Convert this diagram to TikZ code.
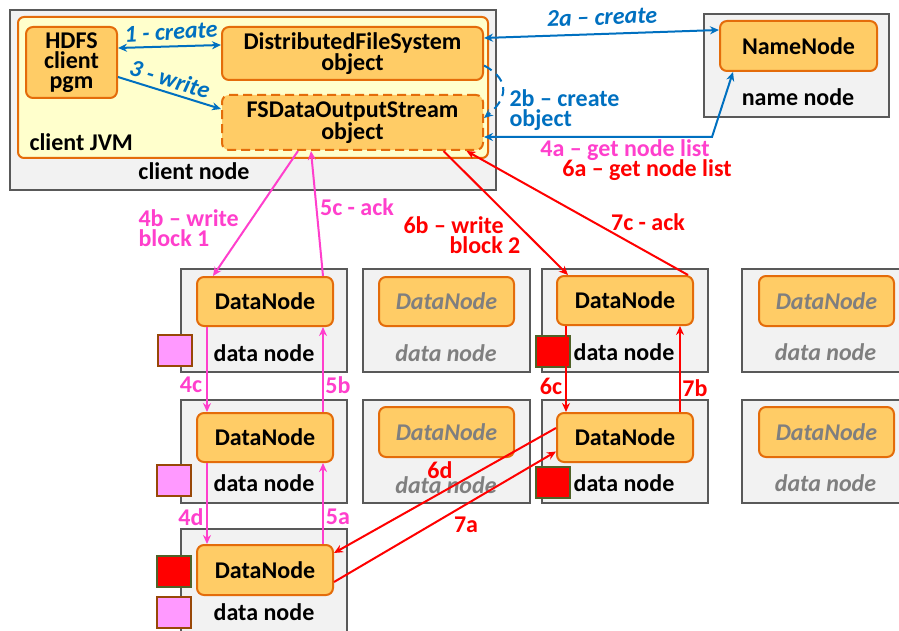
\documentclass[tikz,border=0pt]{standalone}
\usepackage{fontspec}
\setmainfont{Carlito}
\usepackage{tikz}
\usetikzlibrary{arrows.meta}

\definecolor{hostgray}{HTML}{F2F2F2}
\definecolor{hostline}{HTML}{595959}
\definecolor{jvmfill}{HTML}{FFFFCC}
\definecolor{objfill}{HTML}{FFCC66}
\definecolor{objline}{HTML}{E46C0A}
\definecolor{sparegray}{HTML}{7F7F7F}
\definecolor{hdfsblue}{HTML}{0070C0}
\definecolor{flowpink}{HTML}{FF3FCC}
\definecolor{blockpink}{HTML}{FF99FF}
\definecolor{pinkline}{HTML}{984807}
\definecolor{redline}{HTML}{4F6228}

\begin{document}
\begin{tikzpicture}[x=1pt,y=-1pt,
  every node/.style={font=\bfseries\fontsize{24}{20}\selectfont},
  >={Stealth[length=9pt,width=8pt]},
  host/.style={fill=hostgray,draw=hostline,line width=2.2pt},
  daemon/.style={draw=objline,fill=objfill,line width=2pt,rounded corners=7pt,
    align=center,inner sep=0pt},
  spare/.style={daemon,text=sparegray,font=\bfseries\itshape\fontsize{24}{20}\selectfont},
  spareinfo/.style={text=sparegray,font=\bfseries\itshape\fontsize{24}{20}\selectfont},
  call/.style={draw=hdfsblue,line width=2pt,->},
  pinkflow/.style={draw=flowpink,line width=2pt,->},
  redflow/.style={draw=red,line width=2pt,->},
  pinkblk/.style={fill=blockpink,draw=pinkline,line width=2pt,
    minimum width=34pt,minimum height=31pt,inner sep=0pt},
  redblk/.style={pinkblk,fill=red,draw=redline}]

  \useasboundingbox (0,0) rectangle (899,631);
  \clip (0,0) rectangle (899,631);

  % client node
  \draw[host] (10,10) rectangle (496,190);
  \draw[draw=objline,fill=jvmfill,line width=2pt,rounded corners=6pt] (18,17) rectangle (488,158);
  \node[daemon,minimum width=91pt,minimum height=71pt] (pgm) at (71.5,62.5) {HDFS\\client\\pgm};
  \node[daemon,minimum width=261pt,minimum height=53pt] (dfs) at (352.5,53.5) {DistributedFileSystem\\object};
  \node[daemon,dashed,dash pattern=on 9pt off 5pt,minimum width=261pt,minimum height=55pt] (fsdos) at (352.5,122.5) {FSDataOutputStream\\object};
  \node[anchor=west] (jvmlbl) at (26,142) {client JVM};
  \node (clientlbl) at (194,171) {client node};

  % name node
  \draw[host] (704,14) rectangle (889,117);
  \node[daemon,minimum width=157pt,minimum height=50pt] (namenode) at (798.5,46) {NameNode};
  \node (namelbl) at (798,97) {name node};

  % data nodes
  \draw[host] (181,269) rectangle (347,372);
  \draw[host] (363,269) rectangle (530,372);
  \draw[host] (542,269) rectangle (708,372);
  \draw[host] (742,269) rectangle (905,372);
  \draw[host] (181,400) rectangle (347,503);
  \draw[host] (363,400) rectangle (530,503);
  \draw[host] (542,400) rectangle (708,503);
  \draw[host] (742,400) rectangle (905,503);
  \draw[host] (181,529) rectangle (347,640);

  \node[daemon,minimum width=136pt,minimum height=49pt] (dn11) at (265,301.5) {DataNode};
  \node[daemon,minimum width=136pt,minimum height=49pt] (dn21) at (265,437.5) {DataNode};
  \node[daemon,minimum width=136pt,minimum height=50pt] (dn31) at (265,570) {DataNode};
  \node[daemon,minimum width=136pt,minimum height=49pt] (dn13) at (625,300.5) {DataNode};
  \node[daemon,minimum width=136pt,minimum height=49pt] (dn23) at (625,437.5) {DataNode};
  \node[spare,minimum width=135pt,minimum height=49pt] (dn12) at (446.5,301.5) {DataNode};
  \node[spare,minimum width=135pt,minimum height=50pt] (dn22) at (446.5,432) {DataNode};
  \node[spare,minimum width=135pt,minimum height=50pt] (dn14) at (826.5,301) {DataNode};
  \node[spare,minimum width=135pt,minimum height=50pt] (dn24) at (826.5,432) {DataNode};

  \node (dl11) at (264,353) {data node};
  \node (dl21) at (264,483) {data node};
  \node (dl31) at (264,612) {data node};
  \node (dl13) at (624,352) {data node};
  \node (dl23) at (624,483) {data node};
  \node[spareinfo] (dl12) at (446,353) {data node};
  \node[spareinfo] (dl22) at (446,485) {data node};
  \node[spareinfo] (dl14) at (825.5,352) {data node};
  \node[spareinfo] (dl24) at (825.5,483) {data node};

  % blocks
  \node[pinkblk] (blk11) at (175,350.5) {};
  \node[pinkblk] (blk21) at (174,480) {};
  \node[redblk] (blk31r) at (174,571) {};
  \node[pinkblk] (blk31p) at (174,612.5) {};
  \node[redblk] (blk13) at (553,351) {};
  \node[redblk] (blk23) at (553,482.5) {};

  % create
  \draw[call,<->] ([yshift=14.5pt]pgm.east) -- ([yshift=8.5pt]dfs.west);
  \node[text=hdfsblue,font=\bfseries\itshape\fontsize{24}{20}\selectfont,rotate=3] (l1) at (171,32) {1 - create};
  \draw[call,<->] ([yshift=15.5pt]dfs.east) -- ([yshift=16pt]namenode.west);
  \node[text=hdfsblue,font=\bfseries\itshape\fontsize{24}{20}\selectfont,rotate=2] (l2a) at (602,17) {2a – create};
  \draw[call,dashed,dash pattern=on 9pt off 6pt] ([yshift=-12pt]dfs.east) .. controls +(28,15) and +(22,-18) .. ([yshift=4.5pt]fsdos.east);
  \node[text=hdfsblue,anchor=west,align=left] (l2b) at (506,110) {2b – create\\object};

  % write
  \draw[call] ([yshift=-14.5pt]pgm.east) -- ([yshift=13.5pt]fsdos.west);
  \node[text=hdfsblue,font=\bfseries\itshape\fontsize{24}{20}\selectfont,rotate=-17] (l3) at (170,79) {3 - write};

  % get node list
  \coordinate (bend) at (712,137);
  \draw[call,<->] ([yshift=-14.5pt]fsdos.east) -- (bend) -- ([xshift=-65.5pt]namenode.south);
  \node[text=flowpink] (l4a) at (625,150) {4a – get node list};
  \node[text=red] (l6a) at (647,170) {6a – get node list};

  % block 1 pipeline
  \draw[pinkflow] ([xshift=-54.5pt]fsdos.south) -- ([xshift=-52pt]dn11.north);
  \draw[pinkflow] ([xshift=58pt]dn11.north) -- ([xshift=-41.5pt]fsdos.south);
  \draw[pinkflow] ([xshift=-58pt]dn11.south) -- ([xshift=-58pt]dn21.north);
  \draw[pinkflow] ([xshift=58pt]dn21.north) -- ([xshift=58pt]dn11.south);
  \draw[pinkflow] ([xshift=-58pt]dn21.south) -- ([xshift=-58pt]dn31.north);
  \draw[pinkflow] ([xshift=58pt]dn31.north) -- ([xshift=58pt]dn21.south);
  \node[text=flowpink,anchor=west,align=left] (l4b) at (135,228) {4b – write\\block 1};
  \node[text=flowpink] (l5c) at (357,207) {5c - ack};
  \node[text=flowpink] (l4c) at (191,385) {4c};
  \node[text=flowpink] (l5b) at (338,385) {5b};
  \node[text=flowpink] (l4d) at (191,517) {4d};
  \node[text=flowpink] (l5a) at (338,517) {5a};

  % block 2 pipeline
  \draw[redflow] ([xshift=91pt]fsdos.south) -- ([xshift=-57pt]dn13.north);
  \draw[redflow] ([xshift=63pt]dn13.north) -- ([xshift=114pt]fsdos.south);
  \draw[redflow] ([xshift=-59pt]dn13.south) -- ([xshift=-59pt]dn23.north);
  \draw[redflow] ([xshift=55pt]dn23.north) -- ([xshift=55pt]dn13.south);
  \draw[redflow] ([yshift=9.5pt]dn23.west) -- ([yshift=17pt]dn31.east);
  \draw[redflow] ([yshift=-12pt]dn31.east) -- ([yshift=-14pt]dn23.west);
  \node[text=red,anchor=west,align=left] (l6b) at (400,235) {6b – write\\\hspace*{46pt}block 2};
  \node[text=red] (l7c) at (648,222) {7c - ack};
  \node[text=red] (l6c) at (551,386) {6c};
  \node[text=red] (l7b) at (695,388) {7b};
  \node[text=red] (l6d) at (440,470) {6d};
  \node[text=red] (l7a) at (466,525) {7a};

\end{tikzpicture}
\end{document}
